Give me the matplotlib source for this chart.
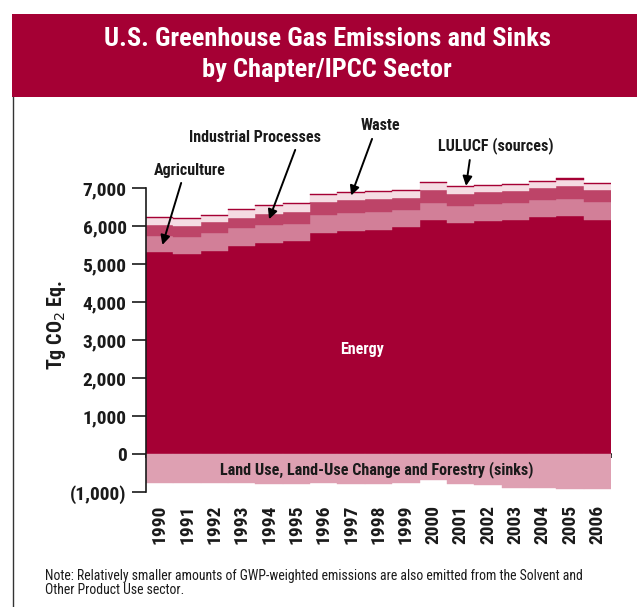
import numpy as np
import matplotlib
matplotlib.use("Agg")
import matplotlib.pyplot as plt
from matplotlib.patches import Rectangle
from matplotlib.lines import Line2D
from matplotlib.ticker import FuncFormatter, FixedLocator

# ---------------- data (Tg CO2 Eq.) ----------------
years = ["1990", "1991", "1992", "1993", "1994", "1995", "1996", "1997", "1998",
         "1999", "2000", "2001", "2002", "2003", "2004", "2005", "2006"]
energy = [5306, 5253, 5350, 5482, 5561, 5613, 5824, 5876, 5903,
          5982, 6166, 6087, 6139, 6166, 6245, 6271, 6166]
agriculture = [439, 465, 456, 473, 473, 448, 473, 474, 473,
               447, 447, 447, 448, 447, 447, 447, 473]
industrial = [289, 290, 290, 263, 290, 307, 342, 342, 342,
              316, 342, 316, 316, 316, 316, 343, 316]
waste = [167, 167, 175, 203, 211, 219, 185, 185, 176,
         175, 176, 176, 149, 158, 158, 158, 158]
lulucf_sources = [26, 26, 26, 27, 27, 27, 28, 28, 28,
                  29, 29, 30, 30, 31, 31, 32, 32]
lulucf_sinks = [-745, -765, -760, -748, -780, -768, -758, -785, -772,
                -755, -675, -775, -820, -880, -882, -900, -900]
yticks_vals = [-1000, 0, 1000, 2000, 3000, 4000, 5000, 6000, 7000]

# ---------------- style ----------------
CRIMSON = "#a50034"
C_ENERGY = "#a50034"
C_AGRI = "#d27f98"
C_IND = "#bd4468"
C_WASTE = "#f5dce3"
C_LUSRC = "#a50034"
C_SINK = "#dea0b2"
DARK = "#1a1a1a"

plt.rcParams["font.family"] = ["Roboto Condensed", "DejaVu Sans"]

W, H = 637, 607
fig = plt.figure(figsize=(W / 100, H / 100), dpi=100)
fig.patch.set_facecolor("white")

def fx(px):
    return px / W

def fy(py):
    return 1 - py / H

# header band
fig.patches.append(Rectangle((fx(12), fy(97)), fx(637) - fx(12), fy(14) - fy(97),
                             transform=fig.transFigure, facecolor=CRIMSON,
                             edgecolor="none", zorder=0))
# left frame line
fig.lines.append(Line2D([fx(12.5), fx(12.5)], [0, fy(97)], transform=fig.transFigure,
                        color="#333333", lw=1.0))

fig.text(fx(327), fy(39), "U.S. Greenhouse Gas Emissions and Sinks", color="white",
         fontsize=19, fontweight="bold", ha="center", va="center")
fig.text(fx(327), fy(70), "by Chapter/IPCC Sector", color="white",
         fontsize=19, fontweight="bold", ha="center", va="center")

# axes geometry (pixels): 0 at 454.3, 38.04 px per 1000
ymin, ymax = -1000, 7400
px_per_unit = 38.04 / 1000
left_px, right_px = 146, 611
bot_px = 454.3 + 1000 * px_per_unit
top_px = 454.3 - ymax * px_per_unit
ax = fig.add_axes([fx(left_px), fy(bot_px), fx(right_px) - fx(left_px), fy(top_px) - fy(bot_px)])
ax.set_facecolor("none")

x = np.arange(len(years))
layers = [(energy, C_ENERGY), (agriculture, C_AGRI), (industrial, C_IND),
          (waste, C_WASTE), (lulucf_sources, C_LUSRC)]
bottom = np.zeros(len(years))
for vals, col in layers:
    v = np.array(vals, dtype=float)
    ax.bar(x, v, bottom=bottom, width=1.0, color=col, edgecolor=col, linewidth=0.3, zorder=2)
    bottom = bottom + v
ax.bar(x, lulucf_sinks, width=1.0, color=C_SINK, edgecolor=C_SINK, linewidth=0.3, zorder=2)

ax.set_xlim(-0.5, len(years) - 0.5)
ax.set_ylim(ymin, ymax)

for s in ["top", "right", "bottom"]:
    ax.spines[s].set_visible(False)
ax.spines["left"].set_linewidth(1.2)
ax.spines["left"].set_color(DARK)
ax.spines["left"].set_bounds(-1000, 7000)

ax.yaxis.set_major_locator(FixedLocator(yticks_vals))
ax.yaxis.set_major_formatter(FuncFormatter(
    lambda v, p: f"({abs(int(v)):,})" if v < 0 else f"{int(v):,}"))
ax.tick_params(axis="y", length=10, width=1.2, color=DARK, pad=4,
               labelsize=14, labelcolor=DARK)
for t in ax.get_yticklabels():
    t.set_fontweight("bold")

ax.set_xticks(x)
ax.set_xticklabels(years, rotation=90, fontsize=14, fontweight="bold", color=DARK)
ax.tick_params(axis="x", length=0, pad=9)

# zero line with boundary ticks
zero_pos = (0 - ymin) / (ymax - ymin)
sec = ax.secondary_xaxis(zero_pos)
sec.set_xticks(np.arange(len(years) + 1) - 0.5)
sec.set_xticklabels([])
sec.tick_params(axis="x", direction="out", length=3, width=1.2, color=DARK)
sec.spines["bottom"].set_linewidth(1.2)
sec.spines["bottom"].set_color(DARK)
sec.spines["bottom"].set_zorder(5)

ax.set_ylabel("Tg CO$_2$ Eq.", fontsize=14.5, fontweight="bold", color=DARK)
ax.yaxis.set_label_coords(-(146 - 68) / (right_px - left_px),
                          (bot_px - 325) / (bot_px - top_px))

# in-chart labels
fig.text(fx(362), fy(349), "Energy", color="white", fontsize=11.5, fontweight="bold",
         ha="center", va="center")
fig.text(fx(377), fy(470), "Land Use, Land-Use Change and Forestry (sinks)", color=DARK,
         fontsize=11.6, fontweight="bold", ha="center", va="center", zorder=10)

arrow = dict(arrowstyle="-|>", color="black", lw=1.4, mutation_scale=14, shrinkA=2, shrinkB=0)
cum = np.cumsum(np.array([energy, agriculture, industrial, waste, lulucf_sources], dtype=float), axis=0)

ax.annotate("Agriculture", xy=(0.1, energy[0] + agriculture[0] * 0.45),
            xytext=(fx(190), fy(170)), textcoords="figure fraction",
            fontsize=11.5, fontweight="bold", ha="center", va="center", color=DARK,
            arrowprops=dict(arrow, relpos=(0.4, 0.0)), annotation_clip=False)
ax.annotate("Industrial Processes", xy=(4.0, cum[1][4] + industrial[4] * 0.5),
            xytext=(fx(255), fy(137)), textcoords="figure fraction",
            fontsize=11.5, fontweight="bold", ha="center", va="center", color=DARK,
            arrowprops=dict(arrow, relpos=(0.82, 0.0)), annotation_clip=False)
ax.annotate("Waste", xy=(7.0, cum[2][7] + waste[7] * 0.6),
            xytext=(fx(380), fy(126)), textcoords="figure fraction",
            fontsize=11.5, fontweight="bold", ha="center", va="center", color=DARK,
            arrowprops=dict(arrow, relpos=(0.35, 0.0)), annotation_clip=False)
ax.annotate("LULUCF (sources)", xy=(11.2, cum[4][11]),
            xytext=(fx(496), fy(146)), textcoords="figure fraction",
            fontsize=11.5, fontweight="bold", ha="center", va="center", color=DARK,
            arrowprops=dict(arrow, relpos=(0.28, 0.0)), annotation_clip=False)

fig.text(fx(45), fy(576), "Note: Relatively smaller amounts of GWP-weighted emissions are also emitted from the Solvent and",
         fontsize=9.9, ha="left", va="center", color=DARK)
fig.text(fx(45), fy(590), "Other Product Use sector.",
         fontsize=9.9, ha="left", va="center", color=DARK)

fig.savefig("out.png", dpi=100, facecolor="white")
